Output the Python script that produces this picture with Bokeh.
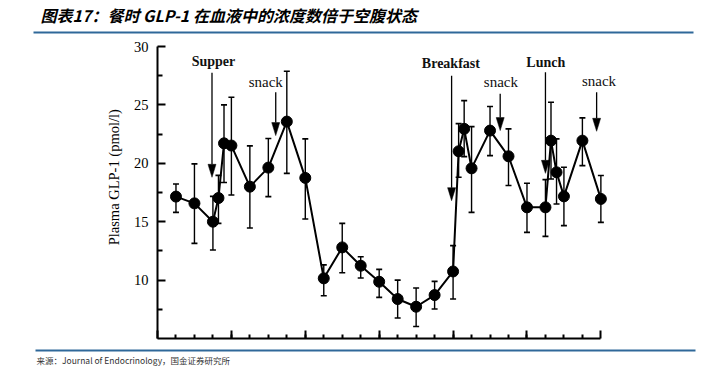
import math
from bokeh.plotting import figure
from bokeh.layouts import column, row
from bokeh.models import Range1d, FixedTicker, Label
from bokeh.embed import file_html
from bokeh.resources import INLINE

# ---- data ----
hours = [1, 2, 3, 3.3, 3.6, 4, 5, 6, 7, 8, 9, 10, 11, 12, 13, 14, 15, 16,
         16.3, 16.6, 17, 18, 19, 20, 21, 21.3, 21.6, 22, 23, 24]
glp1 = [17.15, 16.57, 15.0, 17.03, 21.71, 21.52, 18.0, 19.63, 23.57, 18.75,
        10.15, 12.8, 11.23, 9.86, 8.38, 7.72, 8.72, 10.74,
        21.03, 22.95, 19.57, 22.8, 20.6, 16.23, 16.23, 21.94, 19.23, 17.17, 21.94, 16.95]
err_high = [18.23, 19.95, 17.17, 18.97, 25.0, 25.66, 21.49, 22.12, 27.88, 22.09,
            11.3, 14.86, 12.0, 10.92, 10.0, 9.32, 9.89, 12.95,
            23.4, 25.37, 23.14, 24.86, 22.95, 18.29, 18.6, 25.23, 22.09, 19.66, 23.89, 18.95]
err_low = [15.8, 13.14, 12.58, 14.86, 18.35, 17.29, 14.46, 17.15, 19.14, 15.23,
           8.66, 10.63, 10.18, 8.52, 6.75, 6.03, 7.52, 8.38,
           18.8, 20.57, 15.8, 20.66, 18.1, 14.09, 13.74, 18.66, 16.52, 14.66, 19.8, 14.94]

meal_labels = ["Supper", "snack", "Breakfast", "snack", "Lunch", "snack"]
meal_bold = [True, False, True, False, True, False]
arrow_x = [2.95, 6.4, 15.92, 18.55, 21.0, 23.77]
arrow_top = [27.75, 26.08, 27.5, 25.95, 27.8, 26.08]
arrow_tip = [18.8, 22.37, 16.8, 22.8, 19.14, 22.74]
label_x = [3.03, 5.86, 15.88, 18.59, 21.02, 23.9]
label_y = [28.74, 26.94, 28.52, 26.94, 28.65, 27.03]

y_ticks = [10, 15, 20, 25, 30]
y_minor = [7.5, 12.5, 17.5, 22.5, 27.5]
x_ticks = [0, 4, 8, 12, 16, 20, 24]
x_minor = [h for h in range(1, 24)]

title_text = "图表17：餐时 GLP-1 在血液中的浓度数倍于空腹状态"
ylabel_text = "Plasma GLP-1 (pmol/l)"
source_text = "来源：Journal of Endocrinology，国金证券研究所"

BLUE = "#2f6899"
TOTAL_W = 703


def blank(width, height):
    f = figure(width=width, height=height, output_backend="svg", toolbar_location=None,
               x_range=Range1d(0, width), y_range=Range1d(height, 0),
               x_axis_type=None, y_axis_type=None,
               min_border_left=0, min_border_right=0, min_border_top=0, min_border_bottom=0)
    f.outline_line_color = None
    f.grid.visible = False
    f.background_fill_color = "white"
    f.border_fill_color = "white"
    return f


# ---- top: title + rule ----
TOP_H = 36
top = blank(TOTAL_W, TOP_H)
top.add_layout(Label(x=40, y=14, text=title_text, text_align="left", text_baseline="middle",
                     text_font="Noto Sans CJK SC", text_font_size="16px",
                     text_font_style="bold italic", text_color="#000000"))
top.segment(x0=[33], y0=[32], x1=[693], y1=[32], line_color=BLUE, line_width=2)

# ---- middle: y label column + main chart ----
MID_H = 312
YL_W = 128
ylab = blank(YL_W, MID_H)
ylab.add_layout(Label(x=113, y=175.7 - TOP_H, text=ylabel_text, angle=math.pi / 2,
                      text_align="center", text_baseline="middle",
                      text_font="Liberation Serif", text_font_size="14.5px", text_color="#000000"))

MAIN_W = TOTAL_W - YL_W
BL, BT = 29, 10
FRAME_H = 292
XEND = 24.9
PX_H = 18.47
FRAME_W = round(XEND * PX_H)
BR = MAIN_W - BL - FRAME_W
BB = MID_H - BT - FRAME_H
p = figure(width=MAIN_W, height=MID_H, output_backend="svg", toolbar_location=None,
           x_range=Range1d(0, XEND), y_range=Range1d(5, 30),
           min_border_left=BL, min_border_right=BR, min_border_top=BT, min_border_bottom=BB)
p.outline_line_color = None
p.grid.visible = False
p.background_fill_color = "white"
p.border_fill_color = "white"

px_per_h = FRAME_W / XEND
px_per_v = FRAME_H / 25.0

for ax in (p.xaxis[0], p.yaxis[0]):
    ax.axis_line_width = 2
    ax.axis_line_color = "black"
    ax.major_tick_line_width = 2
    ax.minor_tick_line_width = 2
    ax.major_tick_line_color = "black"
    ax.minor_tick_line_color = "black"
    ax.major_tick_out = 0
    ax.minor_tick_out = 0

p.yaxis.ticker = FixedTicker(ticks=y_ticks, minor_ticks=y_minor)
p.yaxis.major_tick_in = 8
p.yaxis.minor_tick_in = 5
p.yaxis.bounds = (5, 30)
p.yaxis.major_label_text_font = "Liberation Serif"
p.yaxis.major_label_text_font_size = "14.5px"
p.yaxis.major_label_text_color = "black"
p.yaxis.major_label_standoff = 9

p.xaxis.ticker = FixedTicker(ticks=x_ticks, minor_ticks=x_minor)
p.xaxis.major_tick_in = 8
p.xaxis.minor_tick_in = 4
p.xaxis.bounds = (0, 24)
p.xaxis.major_label_overrides = {t: "" for t in x_ticks}
p.xaxis.major_label_standoff = 0

# error bars
p.segment(x0=hours, y0=err_low, x1=hours, y1=err_high, line_color="black", line_width=1.4)
p.scatter(x=hours + hours, y=err_high + err_low, marker="dash", size=6,
          line_color="black", line_width=1.6)

# series
p.line(x=hours, y=glp1, line_color="black", line_width=2)
p.scatter(x=hours, y=glp1, size=11, fill_color="black", line_color="black")

# meal arrows
head_h = 13 / px_per_v
head_w = 4 / px_per_h
p.segment(x0=arrow_x, y0=arrow_top, x1=arrow_x, y1=[t + head_h for t in arrow_tip],
          line_color="black", line_width=1.3)
xs = [[x - head_w, x + head_w, x] for x in arrow_x]
ys = [[t + head_h, t + head_h, t] for t in arrow_tip]
p.patches(xs=xs, ys=ys, fill_color="black", line_color="black", line_width=0.5)

for txt, b, lx, ly in zip(meal_labels, meal_bold, label_x, label_y):
    p.add_layout(Label(x=lx, y=ly, text=txt, text_align="center", text_baseline="middle",
                       text_font="Liberation Serif", text_font_size="14px" if b else "15px",
                       text_font_style="bold" if b else "normal", text_color="#111111"))

# ---- bottom: rule + source ----
BOT_Y0 = TOP_H + MID_H
BOT_H = 367 - BOT_Y0
bot = blank(TOTAL_W, BOT_H)
bot.segment(x0=[35], y0=[350 - BOT_Y0], x1=[695], y1=[350 - BOT_Y0],
            line_color=BLUE, line_width=2)
bot.add_layout(Label(x=36, y=359 - BOT_Y0, text=source_text, text_align="left",
                     text_baseline="middle", text_font="Noto Sans CJK SC", text_font_size="8.5px",
                     text_color="#333333"))

layout = column(top, row(ylab, p), bot)
open("out.html", "w").write(file_html(layout, INLINE))
